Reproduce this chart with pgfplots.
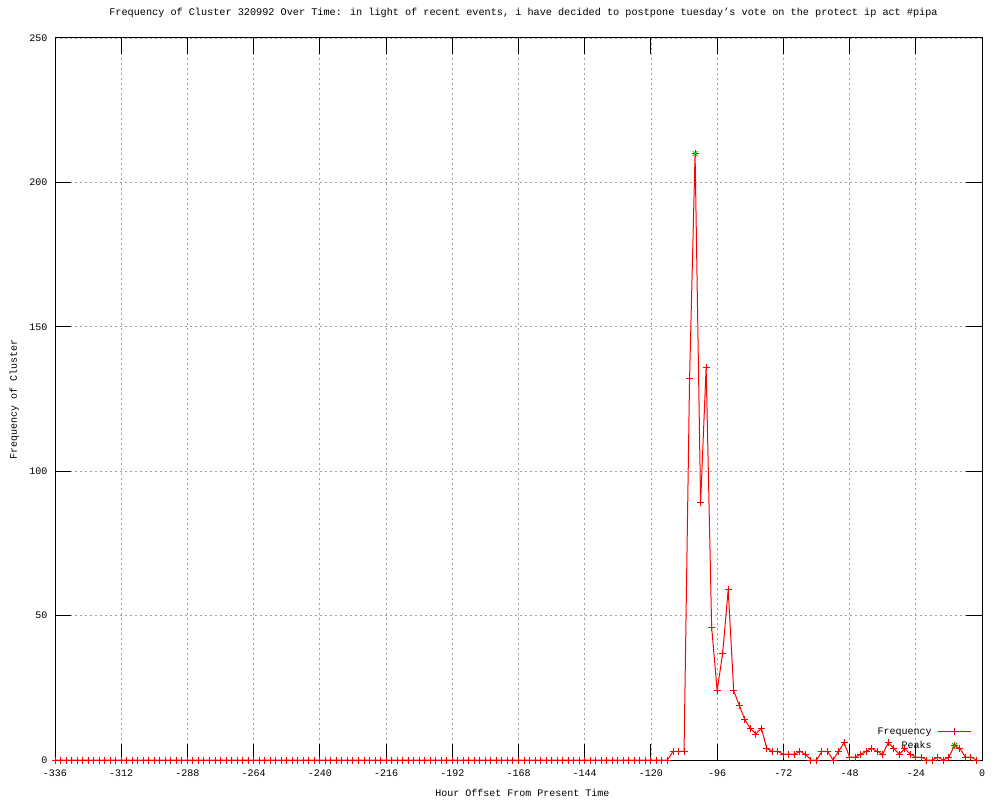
\documentclass[border=0pt]{standalone}
\usepackage{pgfplots}
\pgfplotsset{compat=1.18}
\usepackage{fontspec}
\setmainfont{Liberation Mono}
\definecolor{gridgray}{RGB}{160,160,160}
\definecolor{gpgreen}{RGB}{0,192,0}
\begin{document}
\begin{tikzpicture}[x=1pt,y=1pt]
\path[use as bounding box] (0,0) rectangle (1000,800);
\begin{axis}[
  at={(55pt,40pt)}, anchor=south west,
  width=927pt, height=722pt, scale only axis,
  xmin=-336, xmax=0, ymin=0, ymax=250,
  xtick={-336,-312,-288,-264,-240,-216,-192,-168,-144,-120,-96,-72,-48,-24,0},
  xticklabels={-336,-312,-288,-264,-240,-216,-192,-168,-144,-120,-96,-72,-48,-24,0},
  ytick={0,50,100,150,200,250},
  yticklabels={0,50,100,150,200,250},
  tick align=inside, major tick length=16pt,
  tick style={black, line width=1pt},
  axis line style={black, line width=1pt},
  grid=major,
  major grid style={gridgray, line width=0.8pt, dash pattern=on 2pt off 3pt},
  clip=false,
  every tick label/.append style={font=\fontsize{10}{12}\selectfont},
  xticklabel style={anchor=base, yshift=-16pt},
  yticklabel style={anchor=east, xshift=-4pt},
  title={Frequency of Cluster 320992 Over Time: in light of recent events, i have decided to postpone tuesday’s vote on the protect ip act \#pipa},
  title style={font=\fontsize{10.2}{12}\selectfont, at={(axis description cs:0.5,1)}, anchor=base, yshift=16pt, xshift=5pt},
  xlabel={Hour Offset From Present Time},
  xlabel style={font=\fontsize{10}{12}\selectfont, at={(axis description cs:0.5,0)}, anchor=base, yshift=-36pt, xshift=4pt},
  ylabel={Frequency of Cluster},
  ylabel style={font=\fontsize{10}{12}\selectfont, at={(axis description cs:-0.041,0.5)}, anchor=base},
  legend plot pos=right,
  legend cell align=right,
  legend style={draw=none, fill=none, inner sep=0pt,
    at={(rel axis cs:0.989,0.0485)}, anchor=north east,
    font=\fontsize{10}{12}\selectfont,
    nodes={inner sep=2pt, text height=7pt, text depth=2pt},
    row sep=1pt, column sep=4pt},
  legend image code/.code={\draw[mark repeat=2,mark phase=2,#1] plot coordinates {(0pt,0pt) (16.5pt,0pt) (33pt,0pt)};},
]
\addplot[red, line width=1pt, mark=+, mark size=3.5pt, mark options={line width=1pt}] coordinates {
(-336,0) (-334,0) (-332,0) (-330,0) (-328,0) (-326,0) (-324,0) (-322,0) (-320,0) (-318,0)
(-316,0) (-314,0) (-312,0) (-310,0) (-308,0) (-306,0) (-304,0) (-302,0) (-300,0) (-298,0)
(-296,0) (-294,0) (-292,0) (-290,0) (-288,0) (-286,0) (-284,0) (-282,0) (-280,0) (-278,0)
(-276,0) (-274,0) (-272,0) (-270,0) (-268,0) (-266,0) (-264,0) (-262,0) (-260,0) (-258,0)
(-256,0) (-254,0) (-252,0) (-250,0) (-248,0) (-246,0) (-244,0) (-242,0) (-240,0) (-238,0)
(-236,0) (-234,0) (-232,0) (-230,0) (-228,0) (-226,0) (-224,0) (-222,0) (-220,0) (-218,0)
(-216,0) (-214,0) (-212,0) (-210,0) (-208,0) (-206,0) (-204,0) (-202,0) (-200,0) (-198,0)
(-196,0) (-194,0) (-192,0) (-190,0) (-188,0) (-186,0) (-184,0) (-182,0) (-180,0) (-178,0)
(-176,0) (-174,0) (-172,0) (-170,0) (-168,0) (-166,0) (-164,0) (-162,0) (-160,0) (-158,0)
(-156,0) (-154,0) (-152,0) (-150,0) (-148,0) (-146,0) (-144,0) (-142,0) (-140,0) (-138,0)
(-136,0) (-134,0) (-132,0) (-130,0) (-128,0) (-126,0) (-124,0) (-122,0) (-120,0) (-118,0)
(-116,0) (-114,0) (-112,3) (-110,3) (-108,3) (-106,132) (-104,210) (-102,89) (-100,136) (-98,46)
(-96,24) (-94,37) (-92,59) (-90,24) (-88,19) (-86,14) (-84,11) (-82,9) (-80,11) (-78,4)
(-76,3) (-74,3) (-72,2) (-70,2) (-68,2) (-66,3) (-64,2) (-62,0) (-60,0) (-58,3)
(-56,3) (-54,0) (-52,3) (-50,6) (-48,1) (-46,1) (-44,2) (-42,3) (-40,4) (-38,3)
(-36,2) (-34,6) (-32,4) (-30,2) (-28,4) (-26,2) (-24,1) (-22,1) (-20,0) (-18,0)
(-16,1) (-14,0) (-12,1) (-10,5) (-8,4) (-6,1) (-4,1) (-2,0)
};
\addlegendentry{Frequency}
\addplot[only marks, gpgreen, mark=x, mark size=3.5pt, mark options={line width=0.8pt}] coordinates {
(-104,210) (-10,5)
};
\addlegendentry{Peaks}
\end{axis}
\end{tikzpicture}
\end{document}
